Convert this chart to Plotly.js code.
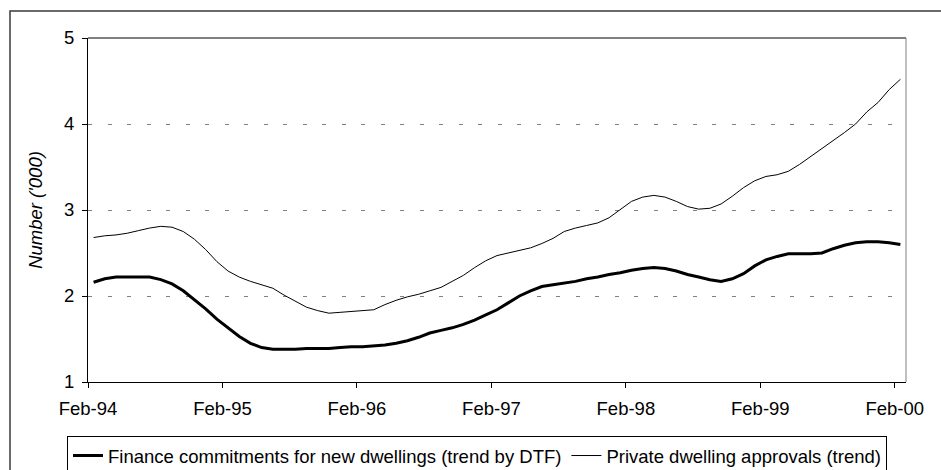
<!DOCTYPE html>
<html>
<head>
<meta charset="utf-8">
<script src="https://cdn.plot.ly/plotly-3.0.1.min.js"></script>
<style>
html,body{margin:0;padding:0;background:#fff;}
#chart{width:941px;height:470px;}
</style>
</head>
<body>
<div id="chart"></div>
<script>
const months = [
  "Feb-94","Mar-94","Apr-94","May-94","Jun-94","Jul-94","Aug-94","Sep-94","Oct-94","Nov-94","Dec-94",
  "Jan-95","Feb-95","Mar-95","Apr-95","May-95","Jun-95","Jul-95","Aug-95","Sep-95","Oct-95","Nov-95","Dec-95",
  "Jan-96","Feb-96","Mar-96","Apr-96","May-96","Jun-96","Jul-96","Aug-96","Sep-96","Oct-96","Nov-96","Dec-96",
  "Jan-97","Feb-97","Mar-97","Apr-97","May-97","Jun-97","Jul-97","Aug-97","Sep-97","Oct-97","Nov-97","Dec-97",
  "Jan-98","Feb-98","Mar-98","Apr-98","May-98","Jun-98","Jul-98","Aug-98","Sep-98","Oct-98","Nov-98","Dec-98",
  "Jan-99","Feb-99","Mar-99","Apr-99","May-99","Jun-99","Jul-99","Aug-99","Sep-99","Oct-99","Nov-99","Dec-99",
  "Jan-00","Feb-00"
];

const financeCommitments = [
  2.16,2.20,2.22,2.22,2.22,2.22,2.19,2.14,2.06,1.96,1.85,
  1.73,1.63,1.53,1.45,1.40,1.38,1.38,1.38,1.39,1.39,1.39,1.40,
  1.41,1.41,1.42,1.43,1.45,1.48,1.52,1.57,1.60,1.63,1.67,1.72,
  1.78,1.84,1.92,2.00,2.06,2.11,2.13,2.15,2.17,2.20,2.22,2.25,
  2.27,2.30,2.32,2.33,2.32,2.29,2.25,2.22,2.19,2.17,2.20,2.26,
  2.35,2.42,2.46,2.49,2.49,2.49,2.50,2.55,2.59,2.62,2.63,2.63,
  2.62,2.60
];

const dwellingApprovals = [
  2.68,2.70,2.71,2.73,2.76,2.79,2.81,2.80,2.75,2.66,2.54,
  2.40,2.29,2.22,2.17,2.13,2.09,2.01,1.94,1.87,1.83,1.80,1.81,
  1.82,1.83,1.84,1.90,1.95,1.99,2.02,2.06,2.10,2.17,2.24,2.33,
  2.41,2.47,2.50,2.53,2.56,2.61,2.67,2.75,2.79,2.82,2.85,2.91,
  3.00,3.10,3.15,3.17,3.15,3.10,3.04,3.01,3.02,3.07,3.16,3.26,
  3.34,3.39,3.41,3.45,3.53,3.62,3.72,3.81,3.90,4.00,4.14,4.25,
  4.40,4.52
];

const tickLabels = ["Feb-94","Feb-95","Feb-96","Feb-97","Feb-98","Feb-99","Feb-00"];
const seriesNames = ["Finance commitments for new dwellings (trend by DTF)", "Private dwelling approvals (trend)"];

const xIdx = months.map((m, i) => i);
const tickPos = tickLabels.map(t => months.indexOf(t) - 0.5);

const FONT = "Arial, 'Liberation Sans', sans-serif";

const traces = [
  {
    x: xIdx, y: financeCommitments, text: months, name: seriesNames[0],
    type: "scatter", mode: "lines",
    line: {color: "#000000", width: 3}
  },
  {
    x: xIdx, y: dwellingApprovals, text: months, name: seriesNames[1],
    type: "scatter", mode: "lines",
    line: {color: "#000000", width: 1}
  }
];

const L = 88, R = 35, T = 38, B = 88;
const W = 941, H = 470;
const pw = W - L - R, ph = H - T - B;
const px = v => (v - L) / pw;
const py = v => (H - B - v) / ph;

const layout = {
  width: W, height: H,
  margin: {l: L, r: R, t: T, b: B, pad: 0, autoexpand: false},
  paper_bgcolor: "#ffffff",
  plot_bgcolor: "#ffffff",
  font: {family: FONT, size: 18.5, color: "#000000"},
  showlegend: true,
  legend: {
    orientation: "h",
    x: px(67), xanchor: "left",
    y: py(436), yanchor: "top",
    bordercolor: "#000000", borderwidth: 1,
    bgcolor: "#ffffff",
    font: {family: FONT, size: 18.5, color: "#000000"},
    itemwidth: 30,
    tracegroupgap: 0
  },
  xaxis: {
    type: "linear",
    range: [-0.5, months.length - 0.5],
    tickmode: "array",
    tickvals: tickPos,
    ticktext: tickLabels,
    ticks: "outside", ticklen: 5, tickwidth: 1, tickcolor: "#000000",
    ticklabelstandoff: 5,
    showline: true, linecolor: "#000000", linewidth: 1,
    showgrid: false, zeroline: false,
    tickfont: {family: FONT, size: 18.5, color: "#000000"},
    automargin: false,
    fixedrange: true
  },
  yaxis: {
    range: [1, 5],
    tickmode: "array",
    tickvals: [1, 2, 3, 4, 5],
    ticktext: ["1", "2", "3", "4", "5"],
    ticks: "outside", ticklen: 5, tickwidth: 1, tickcolor: "#000000",
    ticklabelstandoff: 4,
    showline: true, linecolor: "#000000", linewidth: 1,
    showgrid: true, gridcolor: "#808080", gridwidth: 1, griddash: "4px,15.5px",
    zeroline: false,
    tickfont: {family: FONT, size: 18.5, color: "#000000"},
    title: {text: "<i>Number ('000)</i>", font: {family: FONT, size: 18.5, color: "#000000"}, standoff: 16},
    automargin: false,
    fixedrange: true
  },
  shapes: [
    // outer chart frame (extends beyond the picture at right and bottom)
    {type: "rect", xref: "paper", yref: "paper",
     x0: px(10), x1: px(960), y0: py(490), y1: py(11),
     line: {color: "#3a3a3a", width: 1.5}, fillcolor: "rgba(0,0,0,0)", layer: "below"},
    // plot area top border
    {type: "line", xref: "paper", yref: "paper", x0: 0, x1: 1, y0: 1, y1: 1,
     line: {color: "#000000", width: 1}},
    // plot area right border
    {type: "line", xref: "paper", yref: "paper", x0: 1, x1: 1, y0: 0, y1: 1,
     line: {color: "#808080", width: 1}}
  ]
};

Plotly.newPlot("chart", traces, layout, {displayModeBar: false, staticPlot: true});
</script>
</body>
</html>
